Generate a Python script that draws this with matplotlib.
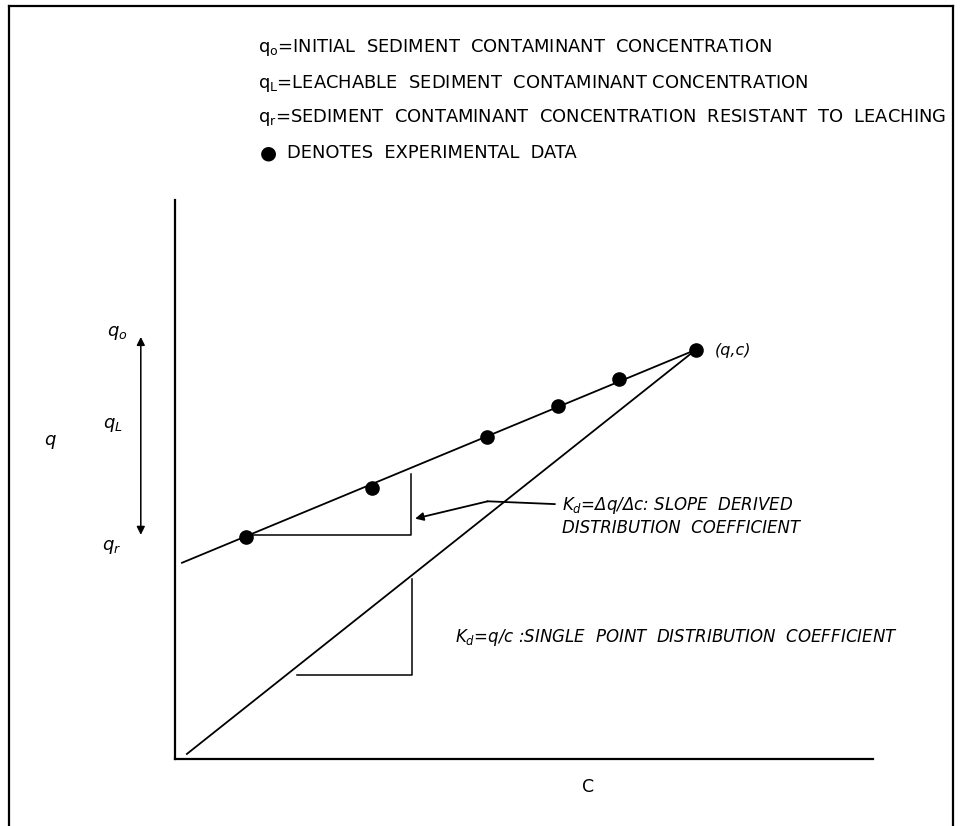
import matplotlib
matplotlib.use("Agg")
import matplotlib.pyplot as plt
from matplotlib.lines import Line2D

plt.rcParams["font.family"] = ["DejaVu Sans"]
plt.rcParams["mathtext.fontset"] = "dejavusans"

W, H = 961, 826

# ---- data (c = concentration in water, q = sediment concentration) ----
c_points = [10.2, 28.2, 44.7, 54.9, 63.6, 74.6]
q_points = [39.7, 48.5, 57.6, 63.1, 68.0, 73.2]
fit_c = [1.0, 74.6]
fit_q = [35.1, 73.2]
kd_c = [1.7, 74.6]
kd_q = [0.9, 73.2]
upper_tri_c = [10.2, 33.8, 33.8]
upper_tri_q = [40.0, 40.0, 51.0]
lower_tri_c = [17.5, 34.0, 34.0]
lower_tri_q = [15.0, 15.0, 32.2]
leader_c = [54.4, 44.8]
leader_q = [45.6, 46.1]
arrow_tip = (34.4, 43.0)
range_c = -4.9
range_q = [40.1, 75.5]

header_lines = [
    r"$\mathrm{q_o}$=INITIAL  SEDIMENT  CONTAMINANT  CONCENTRATION",
    r"$\mathrm{q_L}$=LEACHABLE  SEDIMENT  CONTAMINANT CONCENTRATION",
    r"$\mathrm{q_r}$=SEDIMENT  CONTAMINANT  CONCENTRATION  RESISTANT  TO  LEACHING",
    "DENOTES  EXPERIMENTAL  DATA",
]


def fx(x):
    return x / W


def fy(y):
    return 1 - y / H


fig = plt.figure(figsize=(W / 100, H / 100), dpi=100)
fig.patch.set_facecolor("white")

# outer frame
for xs, ys in [((9, 9), (6, 826)), ((9, 953), (6, 6)), ((953, 953), (6, 826))]:
    fig.add_artist(Line2D([fx(v) for v in xs], [fy(v) for v in ys],
                          color="black", lw=1.6, transform=fig.transFigure))

# chart axes: origin at px (175, 759), x to 873, y to 200
ax = fig.add_axes([fx(175), fy(759), (873 - 175) / W, (759 - 200) / H])
ax.set_xlim(0, 100)
ax.set_ylim(0, 100)
for s in ["top", "right"]:
    ax.spines[s].set_visible(False)
for s in ["left", "bottom"]:
    ax.spines[s].set_linewidth(1.6)
ax.set_xticks([])
ax.set_yticks([])
ax.patch.set_alpha(0)

lw = 1.3
ax.plot(fit_c, fit_q, color="black", lw=lw, clip_on=False)
ax.plot(kd_c, kd_q, color="black", lw=lw, clip_on=False)
ax.plot(upper_tri_c, upper_tri_q, color="black", lw=1.1, clip_on=False)
ax.plot(lower_tri_c, lower_tri_q, color="black", lw=1.1, clip_on=False)
ax.plot(c_points, q_points, "o", color="black", ms=9.5, clip_on=False)

# leader line + arrow to slope triangle
ax.plot(leader_c, leader_q, color="black", lw=1.3, clip_on=False)
ax.annotate("", xy=arrow_tip, xytext=(leader_c[1], leader_q[1]),
            arrowprops=dict(arrowstyle="-|>", color="black", lw=1.3,
                            mutation_scale=12, shrinkA=0, shrinkB=0),
            annotation_clip=False)

# q range double arrow
ax.annotate("", xy=(range_c, range_q[1]), xytext=(range_c, range_q[0]),
            arrowprops=dict(arrowstyle="<|-|>", color="black", lw=1.1,
                            mutation_scale=12, shrinkA=0, shrinkB=0),
            annotation_clip=False)

# header text
hdr_y = [47, 83, 118, 153]
for i, t in enumerate(header_lines):
    x0 = 258 if i < 3 else 287
    fig.text(fx(x0), fy(hdr_y[i]), t, fontsize=12.9, va="center", ha="left")
fig.text(fx(268), fy(153), "●", fontsize=14, va="center", ha="center")

# axis labels
fig.text(fx(50), fy(442), r"$q$", fontsize=13, va="center", ha="center")
fig.text(fx(117), fy(333), r"$q_o$", fontsize=13, va="center", ha="center")
fig.text(fx(113), fy(425), r"$q_L$", fontsize=13, va="center", ha="center")
fig.text(fx(112), fy(547), r"$q_r$", fontsize=13, va="center", ha="center")
fig.text(fx(588), fy(787), "C", fontsize=12.5, va="center", ha="center")

# annotations
fig.text(fx(715), fy(350), "(q,c)", fontsize=11.5, style="italic",
         va="center", ha="left")
fig.text(fx(562), fy(505), r"$K_d$=Δq/Δc: SLOPE  DERIVED", fontsize=12,
         style="italic", va="center", ha="left")
fig.text(fx(562), fy(528), "DISTRIBUTION  COEFFICIENT", fontsize=12,
         style="italic", va="center", ha="left")
fig.text(fx(455), fy(637), r"$K_d$=q/c :SINGLE  POINT  DISTRIBUTION  COEFFICIENT",
         fontsize=12, style="italic", va="center", ha="left")

fig.savefig("out.png", dpi=100, facecolor="white")
